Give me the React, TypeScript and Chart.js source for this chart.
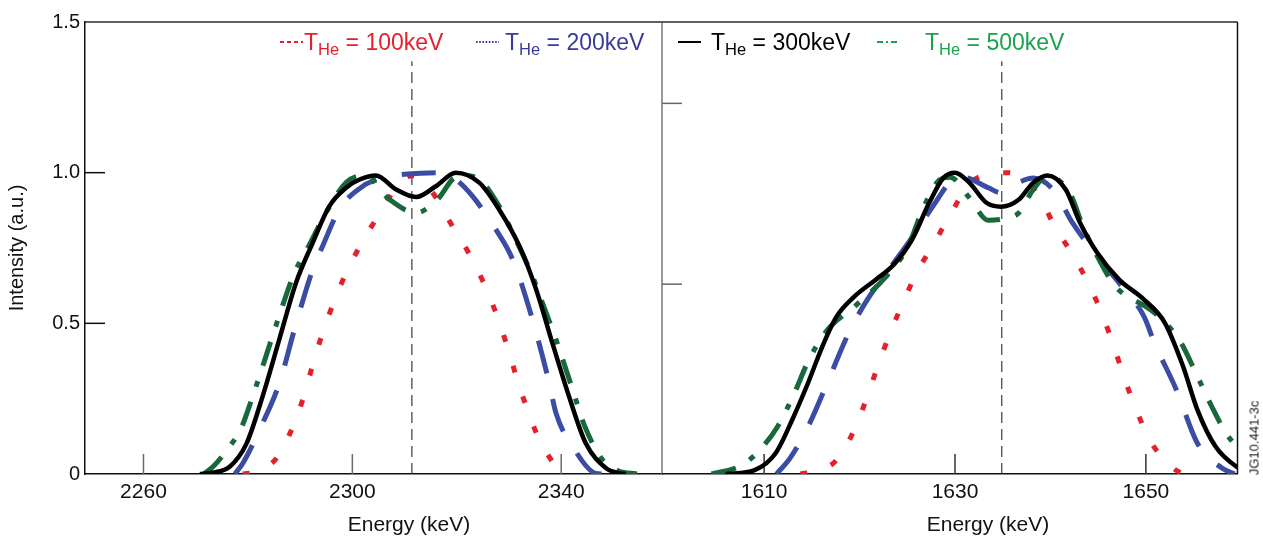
import { useEffect, useRef } from "react";
import { Chart, registerables } from "chart.js";

Chart.register(...registerables);

const FONT = '"Liberation Sans", Arial, Helvetica, sans-serif';
Chart.defaults.font.family = FONT;

// ---------- axes ----------
const yTicks = [0, 0.5, 1.0, 1.5];
const yTickLabels = ["0", "0.5", "1.0", "1.5"];
const leftTicks = [2260, 2300, 2340];
const rightTicks = [1610, 1630, 1650];
const leftRange = [2248.8, 2359.3];
const rightRange = [1599.3, 1659.6];
const rightEdgeMarks = [0.63, 1.23];
const leftCentre = 2311.4;
const rightCentre = 1634.9;
const markerTop = 1.37;

// ---------- left panel (2300 keV line) ----------
const left100E = [2279, 2282.5, 2285.7, 2288.6, 2290.8, 2292.4, 2294.3, 2296.4, 2298.8, 2301.8, 2305.5, 2309.3, 2311.6, 2315.4, 2318.6, 2322.1, 2325.1, 2327.5, 2329.5, 2331.3, 2333.2, 2335.5, 2338.9, 2340.5];
const left100V = [0, 0.012, 0.058, 0.157, 0.263, 0.362, 0.468, 0.568, 0.667, 0.767, 0.872, 0.972, 0.99, 0.933, 0.839, 0.739, 0.636, 0.534, 0.432, 0.329, 0.229, 0.126, 0.027, 0];

const left200E = [2277.5, 2279, 2282.2, 2286, 2288.9, 2292.4, 2294.3, 2297.5, 2302, 2305, 2309, 2313, 2317.3, 2320, 2323, 2327.5, 2330.7, 2334.5, 2337.7, 2339, 2342.2, 2346.6, 2348];
const left200V = [0, 0.035, 0.146, 0.3, 0.479, 0.678, 0.756, 0.878, 0.955, 0.978, 0.993, 0.998, 1.0, 0.975, 0.922, 0.811, 0.712, 0.512, 0.302, 0.202, 0.091, 0.002, 0];

const left300E = [2270.8, 2273.5, 2276.5, 2279.7, 2282.8, 2286, 2289.2, 2292.4, 2295.6, 2298.8, 2301.5, 2304.5, 2308.4, 2312.2, 2316, 2319.8, 2324.3, 2328.1, 2332, 2335.2, 2338.3, 2341.5, 2344.7, 2348.6, 2351, 2352.4];
const left300V = [0, 0.005, 0.024, 0.1, 0.257, 0.446, 0.634, 0.767, 0.889, 0.95, 0.978, 0.991, 0.944, 0.919, 0.955, 1.0, 0.967, 0.878, 0.756, 0.612, 0.435, 0.257, 0.102, 0.019, 0.003, 0];

const left500E = [2271.5, 2273.3, 2276, 2278.7, 2280.9, 2284.7, 2286.7, 2288.9, 2291.8, 2294.6, 2298.8, 2302.5, 2307.1, 2312.2, 2316.6, 2319.2, 2321.5, 2324.3, 2328.1, 2331.3, 2334.5, 2336.4, 2339, 2342.2, 2344.4, 2347.9, 2351, 2354.5];
const left500V = [0, 0.024, 0.08, 0.152, 0.257, 0.457, 0.562, 0.667, 0.762, 0.856, 0.967, 0.99, 0.911, 0.867, 0.917, 0.978, 0.99, 0.978, 0.889, 0.778, 0.656, 0.568, 0.446, 0.279, 0.163, 0.047, 0.01, 0];

// ---------- right panel (1630 keV line) ----------
const right100E = [1613.8, 1615.8, 1617.6, 1619.6, 1620.8, 1621.9, 1623.1, 1624.5, 1626.0, 1627.8, 1629.7, 1631.8, 1635.5, 1638.6, 1640.4, 1642.4, 1644.1, 1645.5, 1646.7, 1647.8, 1649.0, 1650.4, 1653.0, 1654];
const right100V = [0, 0.012, 0.047, 0.157, 0.257, 0.357, 0.46, 0.565, 0.669, 0.765, 0.872, 0.972, 1.0, 0.933, 0.825, 0.723, 0.625, 0.523, 0.418, 0.313, 0.213, 0.113, 0.016, 0];

const right200E = [1611.3, 1612.7, 1614.6, 1616.9, 1618.7, 1620.6, 1622.8, 1625.1, 1627.7, 1629.6, 1630.8, 1633.5, 1634.8, 1636.5, 1638.2, 1640.4, 1642.3, 1644.9, 1647.2, 1649.8, 1650.9, 1653.2, 1655.4, 1658.0, 1659.3];
const right200V = [0, 0.052, 0.157, 0.324, 0.457, 0.568, 0.667, 0.767, 0.889, 0.972, 0.985, 0.95, 0.933, 0.965, 0.982, 0.939, 0.834, 0.723, 0.634, 0.523, 0.435, 0.279, 0.102, 0.019, 0];

const right300E = [1606.0, 1609.0, 1611.2, 1613.1, 1614.6, 1616.1, 1617.6, 1619.5, 1621.7, 1623.6, 1625.5, 1627.3, 1628.8, 1630.0, 1631.5, 1633.3, 1634.8, 1636.7, 1638.2, 1639.7, 1641.6, 1643.1, 1644.9, 1647.2, 1649.8, 1652.0, 1653.9, 1655.4, 1657.3, 1659.5, 1660.5];
const right300V = [0, 0.013, 0.069, 0.191, 0.302, 0.423, 0.523, 0.59, 0.645, 0.695, 0.778, 0.9, 0.983, 1.0, 0.967, 0.9, 0.887, 0.911, 0.967, 0.991, 0.944, 0.834, 0.734, 0.645, 0.579, 0.501, 0.357, 0.213, 0.091, 0.024, 0.01];

const right500E = [1604.5, 1607.7, 1609.7, 1611.4, 1613.1, 1614.6, 1616.5, 1619.7, 1622.8, 1625.1, 1626.4, 1628.1, 1629.5, 1631.5, 1633.5, 1635.5, 1636.7, 1638.2, 1639.7, 1642.1, 1643.4, 1644.9, 1646.8, 1650.5, 1652.4, 1653.7, 1655.4, 1656.9, 1658.4, 1659.5, 1660.5];
const right500V = [0, 0.03, 0.085, 0.157, 0.263, 0.373, 0.473, 0.562, 0.656, 0.756, 0.861, 0.967, 0.985, 0.917, 0.842, 0.85, 0.867, 0.944, 0.989, 0.928, 0.822, 0.723, 0.623, 0.545, 0.49, 0.435, 0.324, 0.224, 0.135, 0.091, 0.05];

// ---------- legend ----------
const legendTemps = ["100keV", "200keV", "300keV", "500keV"];

// ---------- styles ----------
const RED = "#e5202a";
const BLUE = "#3a4ca4";
const BLACK = "#000000";
const GREEN = "#17683a";
const redDash = [7, 25];
const blueDash = [34, 26];
const greenDash = [25, 16, 6, 16];

function curve(E: number[], V: number[], color: string, width: number, dash: number[]) {
  return {
    data: E.map((x, i) => ({ x, y: V[i] })),
    borderColor: color,
    backgroundColor: color,
    borderWidth: width,
    borderDash: dash,
    borderCapStyle: "butt",
    pointRadius: 0,
    cubicInterpolationMode: "monotone",
    fill: false,
  };
}

function marker(c: number) {
  return {
    data: [
      { x: c, y: 0 },
      { x: c, y: markerTop },
    ],
    borderColor: "#3a3a3a",
    borderWidth: 1.2,
    borderDash: [11, 6],
    pointRadius: 0,
    fill: false,
  };
}

const framePlugin = {
  id: "frame",
  beforeDatasetsDraw(chart: any, _args: any, o: any) {
    const { ctx, chartArea: a, scales } = chart;
    const xs = scales.x;
    const ys = scales.y;
    ctx.save();
    ctx.lineCap = "butt";
    ctx.lineWidth = 1.5;
    ctx.strokeStyle = o.xTickColor;
    for (const v of o.xTicks) {
      const px = xs.getPixelForValue(v);
      ctx.beginPath();
      ctx.moveTo(px, a.bottom);
      ctx.lineTo(px, a.bottom - 20);
      ctx.stroke();
    }
    ctx.strokeStyle = o.yTickColor;
    for (const v of o.yMarks) {
      const py = ys.getPixelForValue(v);
      ctx.beginPath();
      ctx.moveTo(a.left, py);
      ctx.lineTo(a.left + 20, py);
      ctx.stroke();
    }
    ctx.strokeStyle = "#2a2a2a";
    ctx.beginPath();
    ctx.moveTo(a.left, a.top);
    ctx.lineTo(a.right, a.top);
    ctx.stroke();
    ctx.strokeStyle = o.rightColor;
    ctx.beginPath();
    ctx.moveTo(a.right, a.top);
    ctx.lineTo(a.right, a.bottom);
    ctx.stroke();
    ctx.restore();
  },
};

function xScale(range: number[], ticks: number[]) {
  return {
    type: "linear",
    min: range[0],
    max: range[1],
    afterBuildTicks: (s: any) => {
      s.ticks = ticks.map((v) => ({ value: v }));
    },
    afterFit: (s: any) => {
      s.height = 65;
    },
    ticks: {
      callback: (v: any) => String(v),
      font: { size: 21, family: FONT },
      color: "#111",
      padding: 6,
      maxRotation: 0,
      autoSkip: false,
    },
    grid: { display: false, drawTicks: false },
    border: { display: true, color: "#111", width: 1.5 },
  };
}

function baseOptions(padding: any, frame: any, x: any, y: any) {
  return {
    animation: false,
    responsive: false,
    maintainAspectRatio: false,
    layout: { padding },
    plugins: { legend: { display: false }, tooltip: { enabled: false }, frame },
    scales: { x, y },
  };
}

export default function App() {
  const leftRef = useRef<HTMLCanvasElement | null>(null);
  const rightRef = useRef<HTMLCanvasElement | null>(null);

  useEffect(() => {
    const left = new Chart(leftRef.current as HTMLCanvasElement, {
      type: "line",
      data: {
        datasets: [
          curve(left300E, left300V, BLACK, 4.5, []),
          curve(left500E, left500V, GREEN, 5, greenDash),
          curve(left200E, left200V, BLUE, 5, blueDash),
          curve(left100E, left100V, RED, 5, redDash),
          marker(leftCentre),
        ] as any,
      },
      options: baseOptions(
        { top: 22, right: 1, left: 0, bottom: 0 },
        { xTicks: leftTicks, xTickColor: "#6a6a6a", yMarks: [0.5, 1.0], yTickColor: "#111", rightColor: "#777" },
        xScale(leftRange, leftTicks),
        {
          min: 0,
          max: 1.5,
          afterBuildTicks: (s: any) => {
            s.ticks = yTicks.map((v) => ({ value: v }));
          },
          afterFit: (s: any) => {
            s.width = 85;
          },
          ticks: {
            callback: (v: any) => yTickLabels[yTicks.indexOf(Number(v))],
            font: { size: 20, family: FONT },
            color: "#111",
            padding: 5,
          },
          grid: { display: false, drawTicks: false },
          border: { display: true, color: "#111", width: 1.5 },
          title: {
            display: true,
            text: "Intensity (a.u.)",
            font: { size: 20, family: FONT },
            color: "#111",
            padding: { top: 5, bottom: 0 },
          },
        }
      ) as any,
      plugins: [framePlugin],
    });

    const right = new Chart(rightRef.current as HTMLCanvasElement, {
      type: "line",
      data: {
        datasets: [
          curve(right300E, right300V, BLACK, 4.5, []),
          curve(right500E, right500V, GREEN, 5, greenDash),
          curve(right200E, right200V, BLUE, 5, blueDash),
          curve(right100E, right100V, RED, 5, redDash),
          marker(rightCentre),
        ] as any,
      },
      options: baseOptions(
        { top: 22, right: 25.5, left: 0, bottom: 0 },
        { xTicks: rightTicks, xTickColor: "#333", yMarks: rightEdgeMarks, yTickColor: "#666", rightColor: "#111" },
        xScale(rightRange, rightTicks),
        {
          min: 0,
          max: 1.5,
          afterFit: (s: any) => {
            s.width = 0;
          },
          ticks: { display: false },
          grid: { display: false, drawTicks: false },
          border: { display: false },
        }
      ) as any,
      plugins: [framePlugin],
    });

    return () => {
      left.destroy();
      right.destroy();
    };
  }, []);

  const legendColors = [RED, "#383a9c", "#000", "#1aa24c"];
  const legendSampleX = [280, 476, 678, 877];
  const legendTextX = [304, 505, 711, 925];
  const sampleDash = ["4 3", "1.6 1.6", "", "6 3 2 3"];

  return (
    <div
      style={{
        position: "fixed",
        left: 0,
        top: 0,
        width: 1263,
        height: 539,
        background: "#fff",
        fontFamily: FONT,
        overflow: "hidden",
      }}
    >
      <canvas ref={leftRef} width={663} height={539} style={{ position: "absolute", left: 0, top: 0, width: 663, height: 539 }} />
      <canvas ref={rightRef} width={601} height={539} style={{ position: "absolute", left: 662, top: 0, width: 601, height: 539 }} />

      {legendTemps.map((t, i) => (
        <div key={t}>
          <svg
            width={24}
            height={6}
            style={{ position: "absolute", left: legendSampleX[i], top: 39 }}
          >
            <line
              x1={0}
              y1={3}
              x2={23}
              y2={3}
              stroke={legendColors[i]}
              strokeWidth={2}
              strokeDasharray={sampleDash[i] || undefined}
            />
          </svg>
          <div
            style={{
              position: "absolute",
              left: legendTextX[i],
              top: 30.5,
              fontSize: 23,
              lineHeight: 1,
              color: legendColors[i],
              whiteSpace: "nowrap",
            }}
          >
            T<span style={{ fontSize: 16.5, verticalAlign: -5 }}>He</span> = {t}
          </div>
        </div>
      ))}

      <div style={{ position: "absolute", left: 409, top: 513, transform: "translateX(-50%)", fontSize: 21, lineHeight: 1, color: "#111", whiteSpace: "nowrap" }}>
        Energy (keV)
      </div>
      <div style={{ position: "absolute", left: 988, top: 513, transform: "translateX(-50%)", fontSize: 21, lineHeight: 1, color: "#111", whiteSpace: "nowrap" }}>
        Energy (keV)
      </div>
      <div
        style={{
          position: "absolute",
          left: 1254,
          top: 438,
          transform: "translate(-50%, -50%) rotate(-90deg)",
          fontSize: 13,
          lineHeight: 1,
          color: "#222",
          whiteSpace: "nowrap",
        }}
      >
        JG10.441-3c
      </div>
    </div>
  );
}
